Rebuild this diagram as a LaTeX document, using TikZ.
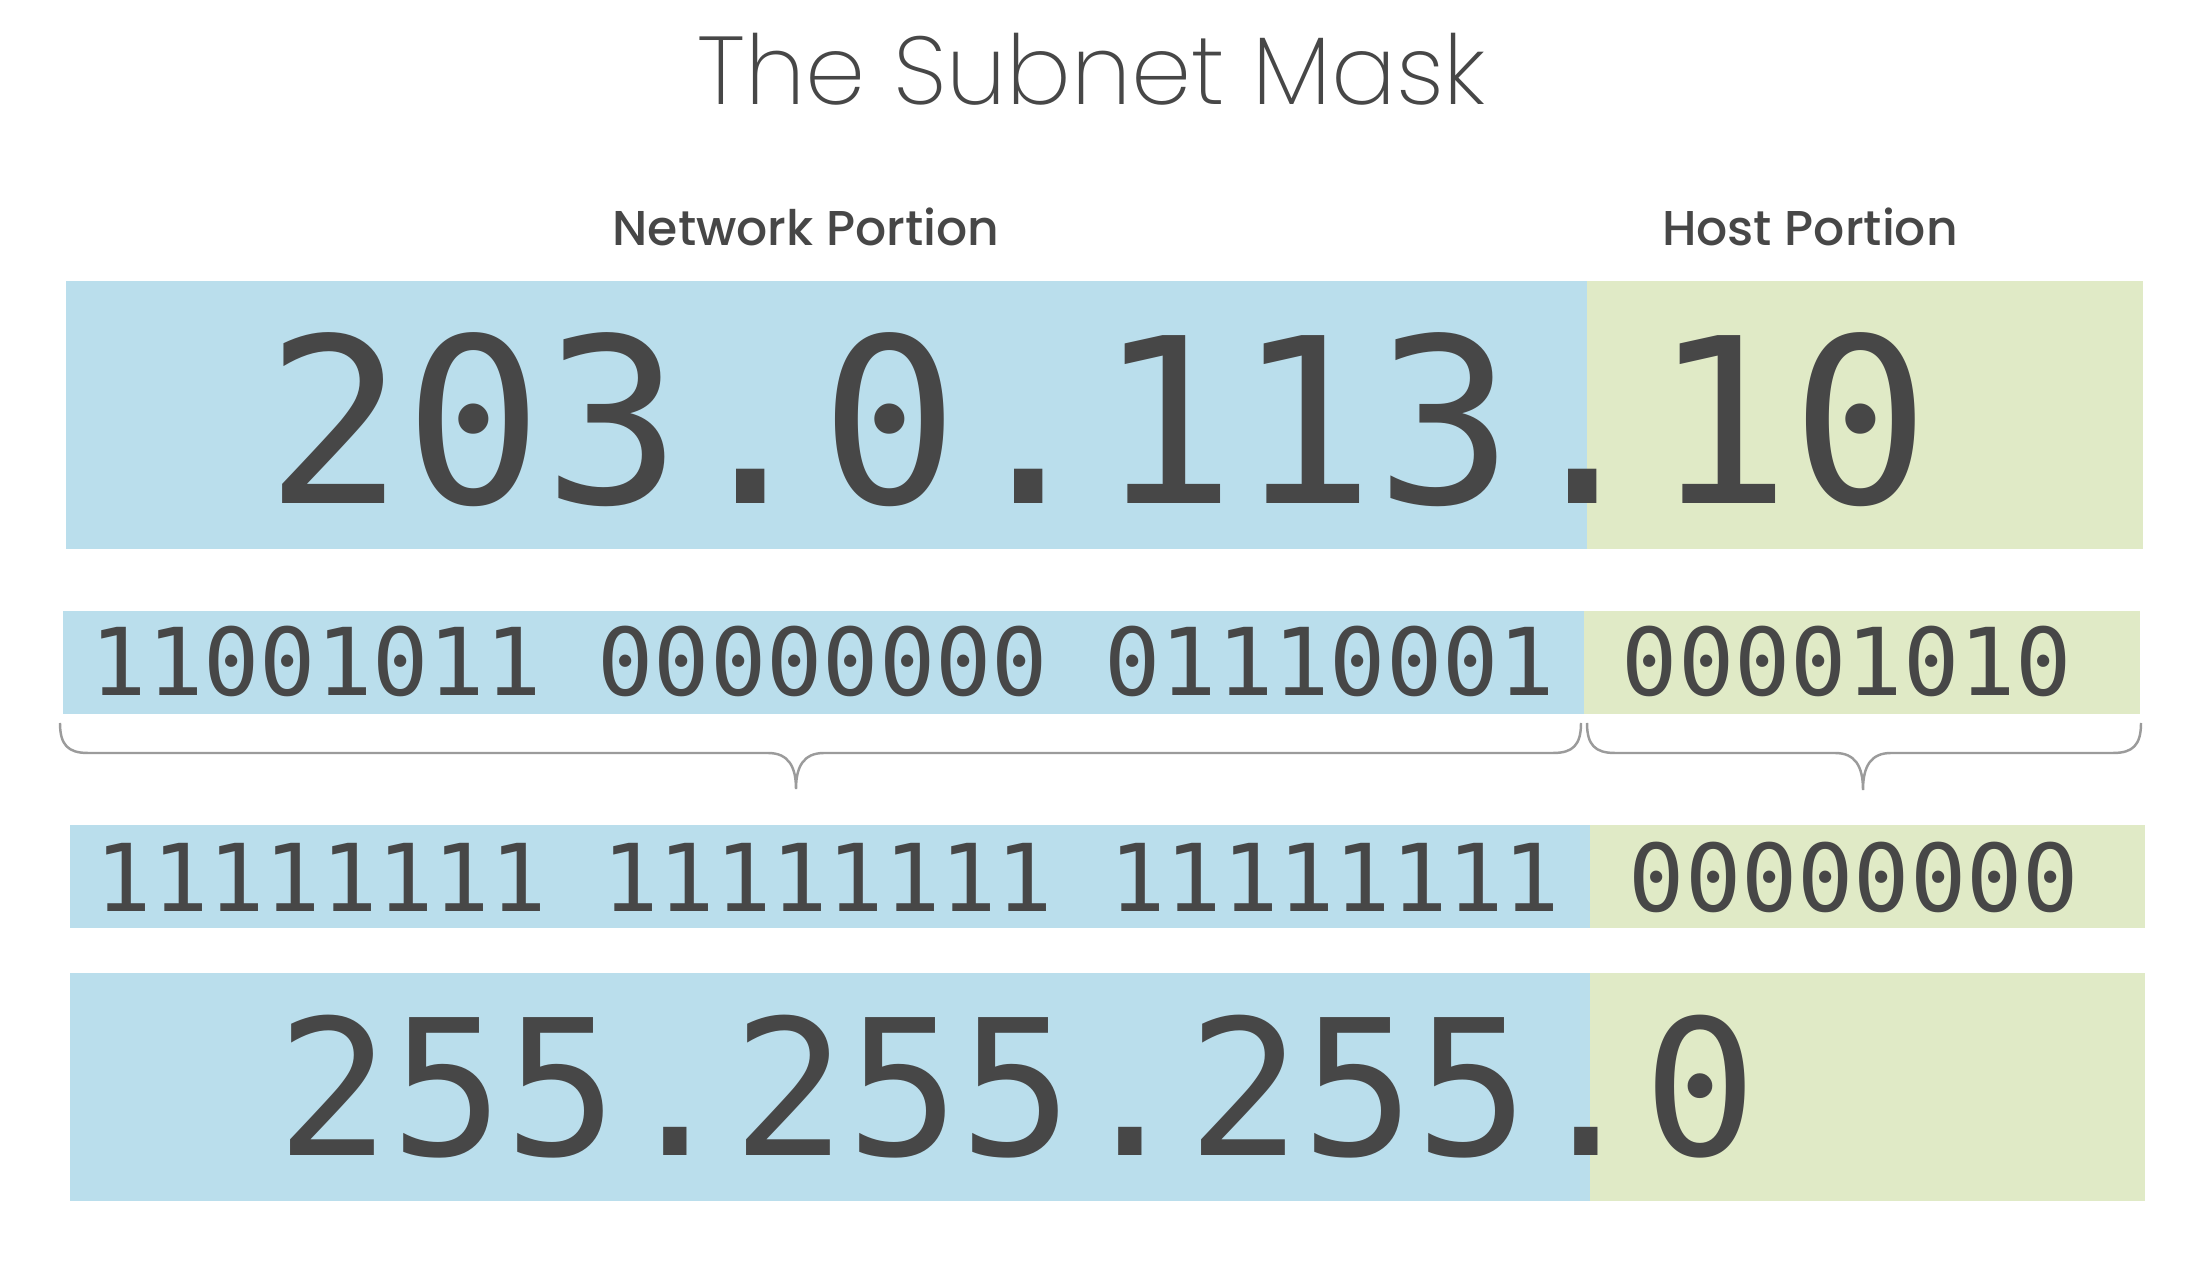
\documentclass[tikz,border=0pt]{standalone}
\usepackage{fontspec}
\setmonofont{DejaVu Sans Mono}
\newfontfamily\titlefont{Poppins}[UprightFont=* ExtraLight]
\newfontfamily\labelfont{Poppins}[UprightFont=* Medium]
\definecolor{netblue}{RGB}{186,222,236}
\definecolor{hostgreen}{RGB}{224,234,198}
\definecolor{digitgray}{RGB}{71,71,71}
\definecolor{bracegray}{RGB}{155,155,155}
\begin{document}
\begin{tikzpicture}[x=0.01cm,y=-0.01cm]
	\tikzset{
		netpart/.style={fill=netblue},
		hostpart/.style={fill=hostgreen},
		heading/.style={anchor=base, inner sep=0pt, text=digitgray, font=\titlefont\fontsize{27.4pt}{30pt}\selectfont},
		portion/.style={anchor=base, inner sep=0pt, text=digitgray, font=\labelfont\fontsize{13.9pt}{15pt}\selectfont},
		octets/.style={inner sep=0pt, text=digitgray, font=\ttfamily\fontsize{#1}{#1}\selectfont},
		bits/.style={octets=26.6pt},
		bracket/.style={draw=bracegray, line width=0.7pt}
	}
	\useasboundingbox (0,0) rectangle (2196,1268);

	\node[heading] (title) at (1092,105) {The Subnet Mask};
	\node[portion] (netlabel) at (806,246) {Network Portion};
	\node[portion] (hostlabel) at (1810,246) {Host Portion};

	\fill[netpart] (66,281) rectangle (1587,549);
	\fill[hostpart] (1587,281) rectangle (2143,549);
	\node[octets=65.5pt] (address) at (1098,420) {203.0.113.10};

	\fill[netpart] (63,611) rectangle (1584,714);
	\fill[hostpart] (1584,611) rectangle (2140,714);
	\node[bits] (addrnet) at (823,661) {11001011 00000000 01110001};
	\node[bits] (addrhost) at (1847,661) {00001010};

	\coordinate (netL) at (60,723);
	\coordinate (nettip) at (796,789);
	\coordinate (netR) at (1581,723);
	\coordinate (hostL) at (1587,723);
	\coordinate (hosttip) at (1863,790);
	\coordinate (hostR) at (2141,723);
	\draw[bracket] (netL) .. controls (60,745) and (68,753) .. (88,753) -- (768,753)
		.. controls (788,753) and (796,766) .. (nettip)
		.. controls (796,766) and (804,753) .. (824,753) -- (1553,753)
		.. controls (1573,753) and (1581,745) .. (netR);
	\draw[bracket] (hostL) .. controls (1587,745) and (1595,753) .. (1615,753) -- (1835,753)
		.. controls (1855,753) and (1863,766) .. (hosttip)
		.. controls (1863,766) and (1871,753) .. (1891,753) -- (2113,753)
		.. controls (2133,753) and (2141,745) .. (hostR);

	\fill[netpart] (70,825) rectangle (1590,928);
	\fill[hostpart] (1590,825) rectangle (2145,928);
	\node[bits] (masknet) at (828,877) {11111111 11111111 11111111};
	\node[bits] (maskhost) at (1854,877) {00000000};

	\fill[netpart] (70,973) rectangle (1590,1201);
	\fill[hostpart] (1590,973) rectangle (2145,1201);
	\node[octets=53.8pt] (mask) at (1017,1087) {255.255.255.0};
\end{tikzpicture}
\end{document}
